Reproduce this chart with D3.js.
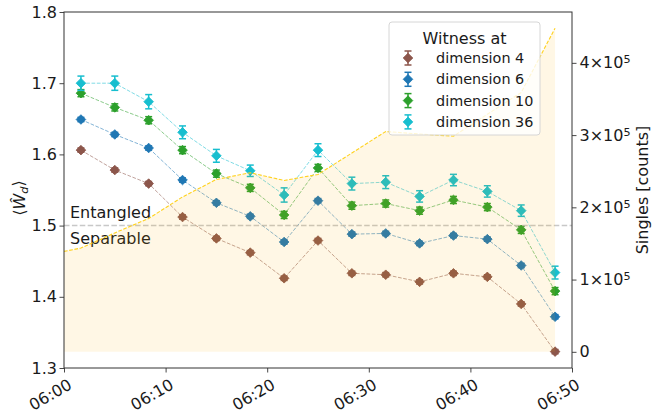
<!DOCTYPE html>
<html><head><meta charset="utf-8">
<script src="https://cdn.jsdelivr.net/npm/d3@7"></script>
<style>
body{margin:0;background:#fff}
text{font-family:"DejaVu Sans",sans-serif;fill:#1a1a1a}
</style>
</head><body>
<svg id="chart" width="655" height="416"></svg>
<script>
// ---- data ----
const times = ["06:01:40","06:05:00","06:08:20","06:11:40","06:15:00","06:18:20","06:21:40","06:25:00",
               "06:28:20","06:31:40","06:35:00","06:38:20","06:41:40","06:45:00","06:48:20"];
const singlesTimes = ["06:00:00"].concat(times);
const singles = [139000,143600,164600,184600,214400,238600,247900,237200,245500,275200,305000,301500,298500,328900,359000,448000];

const dim4  = [1.606,1.578,1.559,1.512,1.482,1.462,1.426,1.479,1.433,1.431,1.421,1.433,1.428,1.390,1.323];
const err4  = [0.003,0.003,0.003,0.003,0.003,0.003,0.003,0.003,0.003,0.003,0.003,0.003,0.003,0.003,0.003];
const dim6  = [1.649,1.628,1.609,1.564,1.532,1.513,1.477,1.535,1.488,1.489,1.475,1.486,1.481,1.444,1.372];
const err6  = [0.003,0.003,0.003,0.003,0.003,0.003,0.003,0.003,0.003,0.003,0.003,0.003,0.003,0.003,0.003];
const dim10 = [1.686,1.666,1.648,1.606,1.573,1.553,1.515,1.581,1.528,1.531,1.521,1.536,1.526,1.494,1.408];
const err10 = [0.005,0.005,0.005,0.005,0.005,0.005,0.005,0.005,0.005,0.005,0.005,0.005,0.005,0.005,0.005];
const dim36 = [1.700,1.700,1.674,1.631,1.598,1.577,1.543,1.606,1.559,1.561,1.541,1.564,1.548,1.521,1.434];
const err36 = [0.010,0.010,0.010,0.009,0.009,0.008,0.010,0.009,0.009,0.009,0.008,0.008,0.008,0.008,0.009];

const seriesNames = ["dimension 4","dimension 6","dimension 10","dimension 36"];
const seriesColors = ["#8c564b","#1f77b4","#2ca02c","#17becf"];
const seriesVals = [dim4, dim6, dim10, dim36];
const seriesErrs = [err4, err6, err10, err36];

const yTicksLeft = [1.3,1.4,1.5,1.6,1.7,1.8];
const yTicksRight = [0,1,2,3,4];   // ×10^5
const xTickLabels = ["06:00","06:10","06:20","06:30","06:40","06:50"];
const legendTitle = "Witness at";
const threshold = 1.5;

// ---- layout ----
const W = 655, H = 416;
const m = {l:64, r:83, t:12, b:48};
const svg = d3.select("#chart");
const parse = d3.timeParse("%H:%M:%S");
const parseHM = d3.timeParse("%H:%M");

const x = d3.scaleTime().domain([parseHM("06:00"), parseHM("06:50")]).range([m.l, W-m.r]);
const y = d3.scaleLinear().domain([1.3,1.8]).range([H-m.b, m.t]);
const y2 = d3.scaleLinear().domain([-22400, 470400]).range([H-m.b, m.t]);

const font = 16;

// ---- witness lines & markers (primary axes) ----
const gMain = svg.append("g");
const tx = times.map(parse);

seriesVals.forEach((vals, si) => {
  const col = seriesColors[si];
  const pts = vals.map((v,i)=>({t:tx[i], v, e:seriesErrs[si][i]}));
  gMain.append("path").datum(pts)
    .attr("d", d3.line().x(d=>x(d.t)).y(d=>y(d.v)))
    .attr("fill","none").attr("stroke",col).attr("stroke-opacity",0.55)
    .attr("stroke-width",1).attr("stroke-dasharray","3.7,1.6");
});
seriesVals.forEach((vals, si) => {
  const col = seriesColors[si];
  const pts = vals.map((v,i)=>({t:tx[i], v, e:seriesErrs[si][i]}));
  const g = gMain.append("g");
  const eb = g.selectAll("g.eb").data(pts).join("g");
  eb.append("line").attr("x1",d=>x(d.t)).attr("x2",d=>x(d.t))
    .attr("y1",d=>y(d.v-d.e)).attr("y2",d=>y(d.v+d.e)).attr("stroke",col).attr("stroke-width",1.5);
  [-1,1].forEach(s=>{
    eb.append("line").attr("x1",d=>x(d.t)-3.5).attr("x2",d=>x(d.t)+3.5)
      .attr("y1",d=>y(d.v+s*d.e)).attr("y2",d=>y(d.v+s*d.e)).attr("stroke",col).attr("stroke-width",1.5);
  });
  eb.append("path").attr("d", d3.symbol(d3.symbolSquare, 46)())
    .attr("transform",d=>`translate(${x(d.t)},${y(d.v)}) rotate(45)`)
    .attr("fill",col).attr("stroke",col).attr("stroke-width",0.8);
});

// threshold line and labels
gMain.append("line").attr("x1",m.l).attr("x2",W-m.r).attr("y1",y(threshold)).attr("y2",y(threshold))
  .attr("stroke","#b0b0b0").attr("stroke-opacity",0.7).attr("stroke-width",1.5).attr("stroke-dasharray","5.5,2.4");
gMain.append("text").attr("x",70).attr("y",y(threshold)-8).attr("font-size",font).text("Entangled");
gMain.append("text").attr("x",70).attr("y",y(threshold)+18).attr("font-size",font).text("Separable");

// ---- singles (twin axes, drawn on top) ----
const sPts = singles.map((v,i)=>({t:parse(singlesTimes[i]), v}));
svg.append("path").datum(sPts)
  .attr("d", d3.area().x(d=>x(d.t)).y0(y2(0)).y1(d=>y2(d.v)))
  .attr("fill","#ffb000").attr("fill-opacity",0.1);
svg.append("path").datum(sPts)
  .attr("d", d3.line().x(d=>x(d.t)).y(d=>y2(d.v)))
  .attr("fill","none").attr("stroke","#ffd21f").attr("stroke-width",1.1).attr("stroke-dasharray","3.7,1.6");

// ---- axes ----
const axisCol = "#333";
const xMajor = xTickLabels.map(parseHM);
const xMinor = d3.range(0, 51, 2.5).map(mn => new Date(+parseHM("06:00") + mn*60000));
const gx = svg.append("g").attr("transform",`translate(0,${H-m.b})`);
gx.call(d3.axisBottom(x).tickValues(xMinor).tickSize(2.5).tickFormat(""));
gx.call(d3.axisBottom(x).tickValues(xMajor).tickSize(4.5).tickFormat(d3.timeFormat("%H:%M")));
gx.selectAll("text").attr("font-size",font).attr("font-family","DejaVu Sans")
  .attr("text-anchor","end").attr("x",0).attr("y",0).attr("dy","0.71em")
  .attr("transform","translate(3,10) rotate(-30)");

const yMinor = d3.range(1.3, 1.8001, 0.02);
const gy = svg.append("g").attr("transform",`translate(${m.l},0)`);
gy.call(d3.axisLeft(y).tickValues(yMinor).tickSize(2.5).tickFormat(""));
gy.call(d3.axisLeft(y).tickValues(yTicksLeft).tickSize(4.5).tickPadding(2.5).tickFormat(d3.format(".1f")));
gy.selectAll("text").attr("font-size",font).attr("font-family","DejaVu Sans");

const gy2 = svg.append("g").attr("transform",`translate(${W-m.r},0)`);
gy2.call(d3.axisRight(y2).tickValues(yTicksRight.map(v=>v*1e5)).tickSize(4.5).tickPadding(2.5).tickFormat(""));
gy2.selectAll(".tick").each(function(d){
  const t = d3.select(this).append("text").attr("x",7.5).attr("dy","0.32em")
    .attr("font-size",font).attr("fill","#1a1a1a").attr("text-anchor","start");
  if (d === 0) { t.text("0"); }
  else {
    t.append("tspan").text(`${d/1e5}×10`);
    t.append("tspan").attr("dy","-0.45em").attr("font-size",font*0.7).text("5");
  }
});

[gx,gy,gy2].forEach(g=>{
  g.selectAll(".domain").remove();
  g.selectAll(".tick line").attr("stroke",axisCol).attr("stroke-width",0.9);
});
// spines
svg.append("rect").attr("x",m.l).attr("y",m.t).attr("width",W-m.l-m.r).attr("height",H-m.t-m.b)
  .attr("fill","none").attr("stroke",axisCol).attr("stroke-width",1);

// axis labels
const yl = svg.append("text").attr("transform",`translate(25,${(m.t+H-m.b)/2+8}) rotate(-90)`)
  .attr("text-anchor","middle").attr("font-size",font);
yl.append("tspan").text("⟨");
yl.append("tspan").attr("font-style","italic").text("Ŵ");
yl.append("tspan").attr("font-style","italic").attr("font-size",font*0.7).attr("dy","0.3em").text("d");
yl.append("tspan").attr("dy","-0.3em").text("⟩");

svg.append("text").attr("transform",`translate(648,${(m.t+H-m.b)/2}) rotate(-90)`)
  .attr("text-anchor","middle").attr("font-size",font).text("Singles [counts]");

// ---- legend ----
const lg = svg.append("g");
lg.append("rect").attr("x",389).attr("y",22).attr("width",151).attr("height",113).attr("rx",3)
  .attr("fill","#fff").attr("fill-opacity",0.8).attr("stroke","#d6d6d6").attr("stroke-width",1);
lg.append("text").attr("x",464.5).attr("y",44).attr("text-anchor","middle").attr("font-size",16).text(legendTitle);
seriesNames.forEach((nm,i)=>{
  const cy = 58 + i*21.3, cx = 408, col = seriesColors[i];
  lg.append("line").attr("x1",cx).attr("x2",cx).attr("y1",cy-7).attr("y2",cy+7).attr("stroke",col).attr("stroke-width",1.5);
  [-7,7].forEach(o=>lg.append("line").attr("x1",cx-3.5).attr("x2",cx+3.5).attr("y1",cy+o).attr("y2",cy+o).attr("stroke",col).attr("stroke-width",1.5));
  lg.append("path").attr("d", d3.symbol(d3.symbolSquare, 46)()).attr("transform",`translate(${cx},${cy}) rotate(45)`)
    .attr("fill",col).attr("stroke",col).attr("stroke-width",0.8);
  lg.append("text").attr("x",436).attr("y",cy).attr("dy","0.35em").attr("font-size",14.4).text(nm);
});
</script>
</body></html>
